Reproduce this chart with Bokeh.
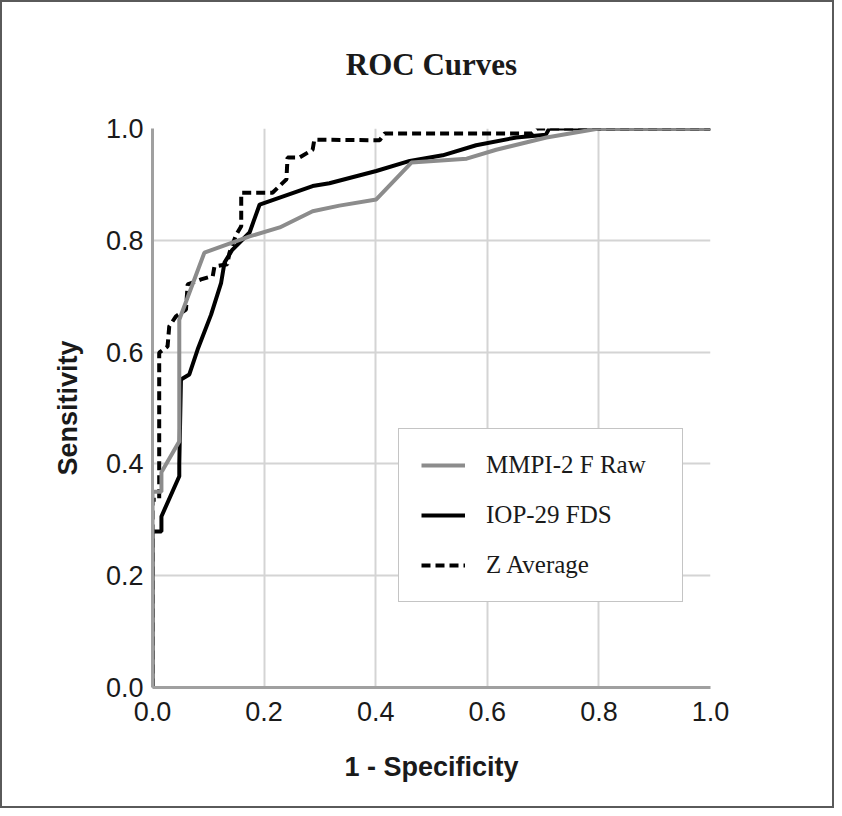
from bokeh.plotting import figure
from bokeh.models import Legend, LegendItem, Range1d, FixedTicker, NumeralTickFormatter, Title
from bokeh.embed import file_html
from bokeh.resources import INLINE

# --- data (1 - specificity, sensitivity) ---
mmpi_x = [0.0, 0.0, 0.016, 0.016, 0.045, 0.048, 0.048, 0.093, 0.174, 0.228, 0.287, 0.335,
          0.401, 0.464, 0.563, 0.616, 0.706, 0.80, 1.0]
mmpi_y = [0.0, 0.35, 0.35, 0.385, 0.435, 0.44, 0.658, 0.778, 0.807, 0.823, 0.852, 0.862,
          0.873, 0.939, 0.946, 0.962, 0.984, 1.0, 1.0]

iop_x = [0.0, 0.0, 0.016, 0.016, 0.048, 0.048, 0.051, 0.066, 0.081, 0.105, 0.123, 0.129,
         0.143, 0.174, 0.192, 0.287, 0.317, 0.401, 0.461, 0.520, 0.580, 0.652, 0.705,
         0.711, 1.0]
iop_y = [0.0, 0.279, 0.279, 0.306, 0.378, 0.40, 0.551, 0.56, 0.605, 0.667, 0.724, 0.760,
         0.783, 0.814, 0.864, 0.897, 0.902, 0.924, 0.942, 0.952, 0.970, 0.984, 0.989,
         1.0, 1.0]

zavg_x = [0.0, 0.0, 0.012, 0.012, 0.027, 0.030, 0.042, 0.060, 0.063, 0.087, 0.108, 0.111,
          0.134, 0.138, 0.150, 0.159, 0.159, 0.215, 0.240, 0.242, 0.263, 0.287, 0.290,
          0.407, 0.416, 0.68, 0.69, 1.0]
zavg_y = [0.0, 0.336, 0.336, 0.599, 0.61, 0.646, 0.664, 0.676, 0.721, 0.730, 0.736, 0.753,
          0.757, 0.778, 0.810, 0.825, 0.885, 0.885, 0.909, 0.948, 0.948, 0.962, 0.980,
          0.979, 0.991, 0.991, 1.0, 1.0]

ticks = [0.0, 0.2, 0.4, 0.6, 0.8, 1.0]
series_names = ["MMPI-2 F Raw", "IOP-29 FDS", "Z Average"]
title_text = "ROC Curves"
x_label = "1 - Specificity"
y_label = "Sensitivity"

p = figure(width=834, height=808,
           min_border_left=150, min_border_right=126,
           min_border_top=126, min_border_bottom=123,
           x_range=Range1d(0, 1), y_range=Range1d(0, 1),
           output_backend="svg", toolbar_location=None)
p.styles = {"border": "2px solid #5a5a5a"}
p.outline_line_color = None
p.background_fill_color = "white"
p.border_fill_color = "white"

# spacer between title and frame
p.add_layout(Title(text=" ", text_font_size="26px"), "above")
p.add_layout(Title(text=title_text, align="center", text_font="Liberation Serif",
                   text_font_style="bold", text_font_size="31px",
                   text_color="#1a1a1a"), "above")

fmt = NumeralTickFormatter(format="0.0")
for ax in (p.xaxis, p.yaxis):
    ax.ticker = FixedTicker(ticks=ticks)
    ax.formatter = fmt
    ax.major_tick_line_color = None
    ax.minor_tick_line_color = None
    ax.axis_line_color = "#a0a0a0"
    ax.axis_line_width = 3
    ax.major_label_text_font = "Liberation Sans"
    ax.major_label_text_font_size = "27px"
    ax.major_label_text_color = "#1a1a1a"
    ax.axis_label_text_font = "Liberation Sans"
    ax.axis_label_text_font_style = "bold"
    ax.axis_label_text_font_size = "27px"
    ax.axis_label_text_color = "#1a1a1a"

p.xaxis.axis_label = x_label
p.yaxis.axis_label = y_label
p.xaxis.major_label_standoff = 8
p.yaxis.major_label_standoff = 3
p.xaxis.axis_label_standoff = 28
p.yaxis.axis_label_standoff = 20

p.xgrid.ticker = FixedTicker(ticks=ticks)
p.ygrid.ticker = FixedTicker(ticks=ticks)
p.grid.grid_line_color = "#d4d4d4"
p.grid.grid_line_width = 2

r_z = p.line(zavg_x, zavg_y, line_color="black", line_width=4, line_dash="9 5")
r_iop = p.line(iop_x, iop_y, line_color="black", line_width=4)
r_mmpi = p.line(mmpi_x, mmpi_y, line_color="#8c8c8c", line_width=4)

legend = Legend(items=[LegendItem(label=series_names[0], renderers=[r_mmpi]),
                       LegendItem(label=series_names[1], renderers=[r_iop]),
                       LegendItem(label=series_names[2], renderers=[r_z])],
                location=(246, 85), orientation="vertical")
legend.label_text_font = "Liberation Serif"
legend.label_text_font_size = "25px"
legend.label_text_color = "#1a1a1a"
legend.padding = 22
legend.spacing = 22
legend.label_height = 28
legend.glyph_height = 28
legend.glyph_width = 44
legend.label_standoff = 21
legend.label_width = 174
legend.border_line_color = "#8a8a8a"
legend.border_line_width = 1.5
legend.background_fill_alpha = 1
legend.margin = 0
p.add_layout(legend, "center")

open("out.html", "w").write(file_html(p, INLINE))
